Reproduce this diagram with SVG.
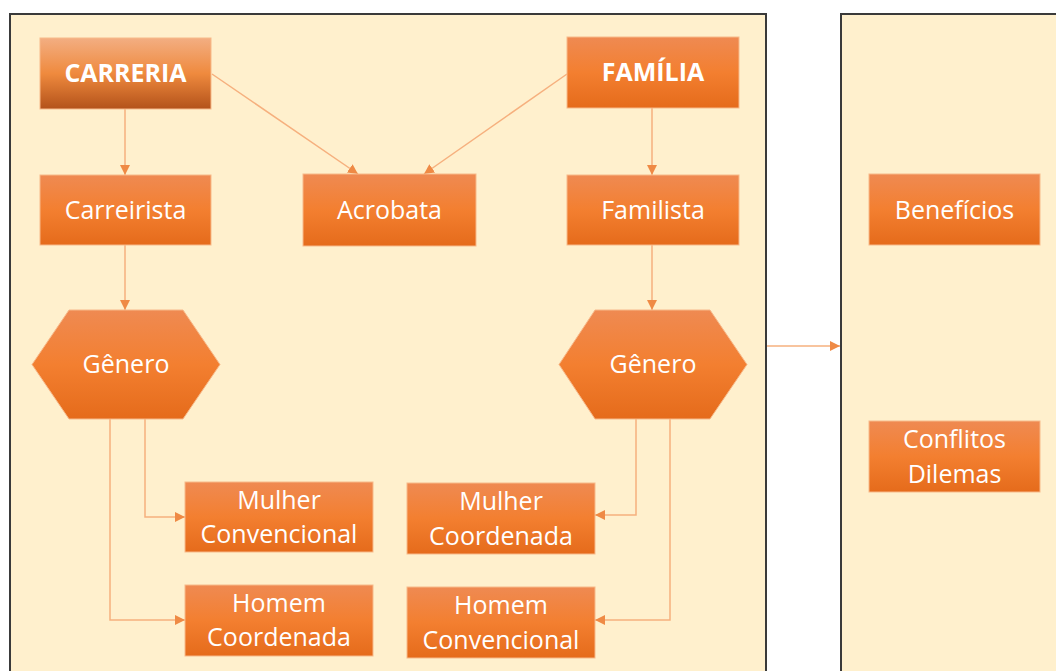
<svg xmlns="http://www.w3.org/2000/svg" width="1056" height="671" viewBox="0 0 1056 671">
  <defs>
    <linearGradient id="gStd" x1="0" y1="0" x2="0" y2="1">
      <stop offset="0" stop-color="#ef8a52"/>
      <stop offset="0.5" stop-color="#f37f30"/>
      <stop offset="1" stop-color="#e56b1b"/>
    </linearGradient>
    <linearGradient id="gCar" x1="0" y1="0" x2="0" y2="1">
      <stop offset="0" stop-color="#f3ae82"/>
      <stop offset="0.5" stop-color="#ef8a3e"/>
      <stop offset="1" stop-color="#b3521a"/>
    </linearGradient>
    <marker id="arr" viewBox="0 0 10 10" refX="10" refY="5" markerWidth="10" markerHeight="10" markerUnits="userSpaceOnUse" orient="auto">
      <path d="M0,0 L10,5 L0,10 Z" fill="#ef8a45"/>
    </marker>
  </defs>
  <style>
    .panel { fill: #fff0cd; stroke: #3a3a3a; stroke-width: 2; }
    .box { fill: url(#gStd); stroke: #f7b98a; stroke-width: 1; }
    .boxc { fill: url(#gCar); stroke: #f7b98a; stroke-width: 1; }
    .t { font-family: "Open Sans", "Noto Sans", sans-serif; font-size: 25px; fill: #ffffff; text-anchor: middle; }
    .tb { font-family: "Open Sans", "Noto Sans", sans-serif; font-size: 25px; font-weight: bold; fill: #ffffff; text-anchor: middle; }
    .c { fill: none; stroke: #f6b07e; stroke-width: 1.5; }
  </style>

  <rect width="1056" height="671" fill="#ffffff"/>
  <g id="panel-left"><rect class="panel" x="10" y="14" width="756" height="670"/></g>
  <g id="panel-right"><rect class="panel" x="841" y="14" width="230" height="670"/></g>

  <g id="connectors">
    <path class="c" d="M125,109 L125,175" marker-end="url(#arr)"/>
    <path class="c" d="M125,245 L125,310" marker-end="url(#arr)"/>
    <path class="c" d="M652,108 L652,175" marker-end="url(#arr)"/>
    <path class="c" d="M652,245 L652,310" marker-end="url(#arr)"/>
    <path class="c" d="M212,74 L358,174" marker-end="url(#arr)"/>
    <path class="c" d="M567,74 L424,174" marker-end="url(#arr)"/>
    <path class="c" d="M145,419 L145,517 L185,517" marker-end="url(#arr)"/>
    <path class="c" d="M110,419 L110,620 L185,620" marker-end="url(#arr)"/>
    <path class="c" d="M636,419 L636,515 L595,515" marker-end="url(#arr)"/>
    <path class="c" d="M670,419 L670,620 L595,620" marker-end="url(#arr)"/>
    <path class="c" d="M767,346 L840,346" marker-end="url(#arr)"/>
  </g>

  <g id="carreria">
    <rect class="boxc" x="40" y="38" width="171" height="71"/>
    <text class="tb" x="125.5" y="82">CARRERIA</text>
  </g>
  <g id="familia">
    <rect class="box" x="567" y="37" width="172" height="71"/>
    <text class="tb" x="653" y="81">FAMÍLIA</text>
  </g>
  <g id="carreirista">
    <rect class="box" x="40" y="175" width="171" height="70"/>
    <text class="t" x="125.5" y="219">Carreirista</text>
  </g>
  <g id="acrobata">
    <rect class="box" x="303" y="174" width="173" height="72"/>
    <text class="t" x="389.5" y="219">Acrobata</text>
  </g>
  <g id="familista">
    <rect class="box" x="567" y="175" width="172" height="70"/>
    <text class="t" x="653" y="219">Familista</text>
  </g>
  <g id="beneficios">
    <rect class="box" x="869" y="174" width="171" height="71"/>
    <text class="t" x="954.5" y="219">Benefícios</text>
  </g>
  <g id="genero-left">
    <polygon class="box" points="69,310 183,310 220,364.5 183,419 69,419 32,364.5"/>
    <text class="t" x="126" y="373">Gênero</text>
  </g>
  <g id="genero-right">
    <polygon class="box" points="595,310 710,310 747,364.5 710,419 595,419 559,364.5"/>
    <text class="t" x="653" y="373">Gênero</text>
  </g>
  <g id="mulher-convencional">
    <rect class="box" x="185" y="482" width="188" height="70"/>
    <text class="t" x="279" y="509">Mulher</text>
    <text class="t" x="279" y="543">Convencional</text>
  </g>
  <g id="homem-coordenada">
    <rect class="box" x="185" y="585" width="188" height="71"/>
    <text class="t" x="279" y="612">Homem</text>
    <text class="t" x="279" y="646">Coordenada</text>
  </g>
  <g id="mulher-coordenada">
    <rect class="box" x="407" y="483" width="188" height="71"/>
    <text class="t" x="501" y="510">Mulher</text>
    <text class="t" x="501" y="545">Coordenada</text>
  </g>
  <g id="homem-convencional">
    <rect class="box" x="407" y="587" width="188" height="71"/>
    <text class="t" x="501" y="614">Homem</text>
    <text class="t" x="501" y="649">Convencional</text>
  </g>
  <g id="conflitos-dilemas">
    <rect class="box" x="869" y="421" width="171" height="71"/>
    <text class="t" x="954.5" y="448">Conflitos</text>
    <text class="t" x="954.5" y="483">Dilemas</text>
  </g>
</svg>
